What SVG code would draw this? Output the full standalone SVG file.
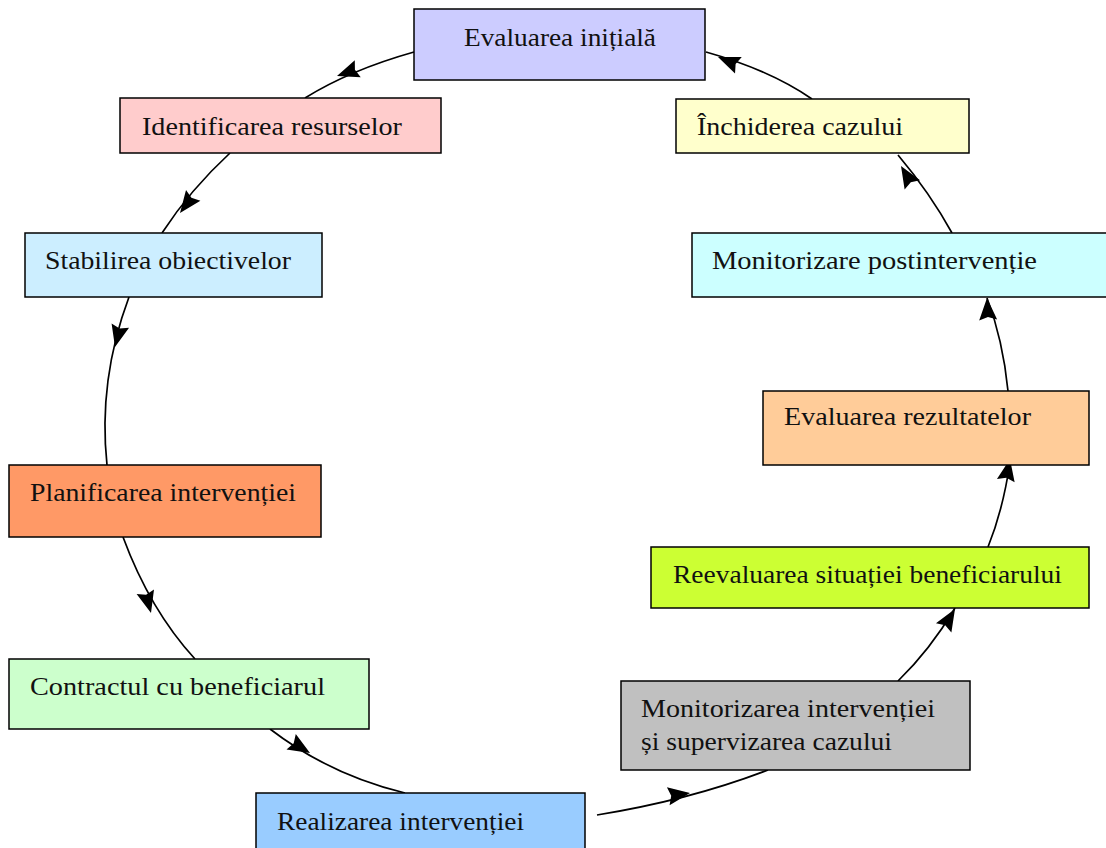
<svg xmlns="http://www.w3.org/2000/svg" width="1106" height="848" viewBox="0 0 1106 848">
<style>
.box{stroke:#000;stroke-width:1.5}
.t{font-family:"Liberation Serif",serif;font-size:25px;fill:#111}
.c{fill:none;stroke:#000;stroke-width:1.7}
</style>
<defs>
<path id="ah" d="M0,0 L-22,-9 L-19,0 L-22,9 Z" fill="#000"/>
</defs>
<rect width="1106" height="848" fill="#fff"/>
<g id="connectors">
<path class="c" d="M414,52 Q350,70 305,98"/>
<path class="c" d="M230,153 Q190,190 162,233"/>
<path class="c" d="M129,297 Q98,380 107,465"/>
<path class="c" d="M123,537 Q150,610 195,659"/>
<path class="c" d="M270,729 Q330,775 405,793"/>
<path class="c" d="M597,815 Q690,800 768,770"/>
<path class="c" d="M898,681 Q930,650 955,608"/>
<path class="c" d="M988,547 Q1003,510 1010,462"/>
<path class="c" d="M1008,391 Q1003,340 987,298"/>
<path class="c" d="M952,233 Q930,193 898,155"/>
<path class="c" d="M812,99 Q770,70 706,52"/>
<use href="#ah" transform="translate(337,76) rotate(160.7)"/>
<use href="#ah" transform="translate(180,213) rotate(126.9)"/>
<use href="#ah" transform="translate(115,347) rotate(104)"/>
<use href="#ah" transform="translate(151,613) rotate(75)"/>
<use href="#ah" transform="translate(310,753) rotate(31)"/>
<use href="#ah" transform="translate(690,793) rotate(-8.5)"/>
<use href="#ah" transform="translate(955,609) rotate(-59)"/>
<use href="#ah" transform="translate(1010,459) rotate(-79)"/>
<use href="#ah" transform="translate(987,298) rotate(-93)"/>
<use href="#ah" transform="translate(901,166) rotate(-121)"/>
<use href="#ah" transform="translate(718,57) rotate(-158)"/>
</g>
<g id="n1"><rect class="box" x="414" y="9" width="291" height="71" fill="#ccccff"/><text class="t" x="464" y="46" textLength="192" lengthAdjust="spacingAndGlyphs">Evaluarea inițială</text></g>
<g id="n2"><rect class="box" x="120" y="98" width="321" height="55" fill="#ffcccc"/><text class="t" x="142" y="135" textLength="260" lengthAdjust="spacingAndGlyphs">Identificarea resurselor</text></g>
<g id="n3"><rect class="box" x="25" y="233" width="297" height="64" fill="#cceeff"/><text class="t" x="45" y="269" textLength="246" lengthAdjust="spacingAndGlyphs">Stabilirea obiectivelor</text></g>
<g id="n4"><rect class="box" x="9" y="465" width="312" height="72" fill="#ff9966"/><text class="t" x="30" y="501" textLength="266" lengthAdjust="spacingAndGlyphs">Planificarea intervenției</text></g>
<g id="n5"><rect class="box" x="9" y="659" width="360" height="70" fill="#ccffcc"/><text class="t" x="30" y="695" textLength="295" lengthAdjust="spacingAndGlyphs">Contractul cu beneficiarul</text></g>
<g id="n6"><rect class="box" x="256" y="793" width="329" height="60" fill="#99ccff"/><text class="t" x="277" y="830" textLength="247" lengthAdjust="spacingAndGlyphs">Realizarea intervenției</text></g>
<g id="n7"><rect class="box" x="621" y="681" width="349" height="89" fill="#c0c0c0"/><text class="t" x="641" y="717" textLength="294" lengthAdjust="spacingAndGlyphs">Monitorizarea intervenției</text><text class="t" x="641" y="750" textLength="251" lengthAdjust="spacingAndGlyphs">și supervizarea cazului</text></g>
<g id="n8"><rect class="box" x="651" y="547" width="438" height="61" fill="#ccff33"/><text class="t" x="673" y="583" textLength="389" lengthAdjust="spacingAndGlyphs">Reevaluarea situației beneficiarului</text></g>
<g id="n9"><rect class="box" x="763" y="391" width="326" height="74" fill="#ffcc99"/><text class="t" x="784" y="425" textLength="247" lengthAdjust="spacingAndGlyphs">Evaluarea rezultatelor</text></g>
<g id="n10"><rect class="box" x="692" y="233" width="416" height="64" fill="#ccffff"/><text class="t" x="712" y="269" textLength="325" lengthAdjust="spacingAndGlyphs">Monitorizare postintervenție</text></g>
<g id="n11"><rect class="box" x="676" y="99" width="293" height="54" fill="#ffffcc"/><text class="t" x="697" y="135" textLength="206" lengthAdjust="spacingAndGlyphs">Închiderea cazului</text></g>
</svg>
